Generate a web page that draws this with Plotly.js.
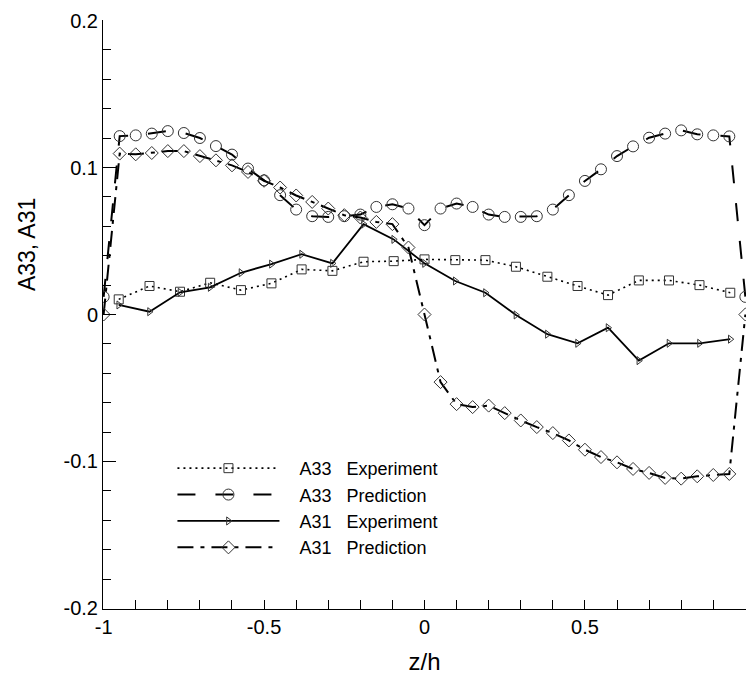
<!DOCTYPE html>
<html>
<head>
<meta charset="utf-8">
<script src="https://cdn.plot.ly/plotly-3.0.1.min.js"></script>
<style>html,body{margin:0;padding:0;background:#fff;}#chart{width:750px;height:679px;}</style>
</head>
<body>
<div id="chart"></div>
<script>
// Experiment positions (z/h)
const expZ = [-0.953, -0.857, -0.762, -0.668, -0.572, -0.477, -0.383, -0.287, -0.190, -0.096, 0.0,
              0.096, 0.190, 0.285, 0.383, 0.477, 0.572, 0.668, 0.762, 0.857, 0.953];
const a33Exp = [0.0103, 0.0194, 0.0155, 0.0216, 0.0166, 0.0212, 0.0307, 0.0297, 0.0359, 0.0363, 0.0375,
                0.0370, 0.0370, 0.0325, 0.0257, 0.0194, 0.0132, 0.0232, 0.0232, 0.0200, 0.0148];
const a31Exp = [0.0065, 0.0019, 0.0151, 0.0185, 0.0284, 0.0343, 0.0410, 0.0348, 0.0615, 0.0511, 0.0348,
                0.0228, 0.0148, -0.0003, -0.0134, -0.0196, -0.0090, -0.0314, -0.0196, -0.0196, -0.0168];
// Prediction positions (z/h)
const predZ = [-1.0, -0.95, -0.90, -0.85, -0.80, -0.75, -0.70, -0.65, -0.60, -0.55, -0.50,
               -0.45, -0.40, -0.35, -0.30, -0.25, -0.20, -0.15, -0.10, -0.05, 0.0,
               0.05, 0.10, 0.15, 0.20, 0.25, 0.30, 0.35, 0.40, 0.45, 0.50,
               0.55, 0.60, 0.65, 0.70, 0.75, 0.80, 0.85, 0.90, 0.95, 1.0];
const a33Pred = [0.012, 0.1214, 0.1219, 0.1231, 0.1248, 0.1235, 0.1201, 0.1146, 0.1088, 0.0993, 0.0913,
                 0.0812, 0.0714, 0.0669, 0.0664, 0.0669, 0.0680, 0.0732, 0.0750, 0.0721, 0.0608,
                 0.0721, 0.0755, 0.0732, 0.0680, 0.0664, 0.0664, 0.0669, 0.0714, 0.0812, 0.0909,
                 0.0988, 0.1078, 0.1144, 0.1203, 0.1231, 0.1253, 0.1226, 0.1219, 0.1212, 0.012];
const a31Pred = [0.0, 0.1095, 0.1090, 0.1099, 0.1112, 0.1112, 0.1078, 0.1049, 0.1015, 0.0970, 0.0910,
                 0.0864, 0.0810, 0.0766, 0.0721, 0.0676, 0.0660, 0.0630, 0.0615, 0.0456, 0.0,
                 -0.0460, -0.0610, -0.0630, -0.0620, -0.0671, -0.0721, -0.0766, -0.0807, -0.0857, -0.0920,
                 -0.0970, -0.1006, -0.1051, -0.1078, -0.1112, -0.1117, -0.1101, -0.1092, -0.1085, 0.0];
const NB = '\u00A0';
const seriesNames = [NB+NB+NB+'A33'+NB.repeat(3)+'Experiment', NB+NB+NB+'A33'+NB.repeat(3)+'Prediction',
                     NB+NB+NB+'A31'+NB.repeat(3)+'Experiment', NB+NB+NB+'A31'+NB.repeat(3)+'Prediction'];
const xTickVals = [-1, -0.5, 0, 0.5, 1];
const xTickText = ['-1', '-0.5', '0', '0.5', '1'];
const xMinorVals = [-1, -0.9, -0.8, -0.7, -0.6, -0.5, -0.4, -0.3, -0.2, -0.1, 0,
                    0.1, 0.2, 0.3, 0.4, 0.5, 0.6, 0.7, 0.8, 0.9, 1];
const yTickVals = [-0.2, -0.1, 0, 0.1, 0.2];
const yTickText = ['-0.2', '-0.1', '0', '0.1', '0.2'];
const yMinorVals = [-0.2, -0.18, -0.16, -0.14, -0.12, -0.1, -0.08, -0.06, -0.04, -0.02, 0,
                    0.02, 0.04, 0.06, 0.08, 0.1, 0.12, 0.14, 0.16, 0.18, 0.2];

const FONT = 'Liberation Sans, Arial, sans-serif';
const mk = (sym, size) => ({symbol: sym, size: size, color: '#333', line: {color: '#333', width: 1}});

const traces = [
  {x: expZ, y: a33Exp, name: seriesNames[0], mode: 'lines+markers',
   line: {color: '#000', width: 1.6, dash: '2px,4px'}, marker: mk('square-open', 9)},
  {x: predZ, y: a33Pred, name: seriesNames[1], mode: 'lines+markers',
   line: {color: '#000', width: 2, dash: '18px,20px'}, marker: mk('circle-open', 11)},
  {x: expZ, y: a31Exp, name: seriesNames[2], mode: 'lines+markers',
   line: {color: '#000', width: 1.8}, marker: mk('triangle-right-open', 7)},
  {x: predZ, y: a31Pred, name: seriesNames[3], mode: 'lines+markers',
   line: {color: '#000', width: 2, dash: '16px,7px,4px,7px'}, marker: mk('diamond-open', 10)}
];

const layout = {
  width: 750, height: 679,
  margin: {l: 103, r: 4, t: 20, b: 70},
  font: {family: FONT, color: '#000', size: 20},
  showlegend: true,
  legend: {x: 0.108, y: 0.27, xanchor: 'left', yanchor: 'top', bgcolor: 'rgba(0,0,0,0)',
           font: {family: FONT, size: 18, color: '#000'}, itemwidth: 102, tracegroupgap: 0},
  xaxis: {range: [-1.002, 1.002], showline: true, linecolor: '#000', showgrid: false, zeroline: false,
          ticks: 'inside', ticklen: 9, tickwidth: 1, tickcolor: 'rgb(0,0,0)',
          tickmode: 'array', tickvals: xTickVals, ticktext: xTickText, tickfont: {size: 20},
          minor: {tickmode: 'array', tickvals: xMinorVals, ticks: 'inside', ticklen: 9, tickwidth: 1, tickcolor: 'rgb(0,0,0)'},
          title: {text: 'z/h', font: {size: 24}, standoff: 16}},
  yaxis: {range: [-0.2004, 0.2004], showline: true, linecolor: '#000', showgrid: false, zeroline: false,
          ticks: 'inside', ticklen: 13, tickwidth: 1, tickcolor: 'rgb(0,0,0)',
          tickmode: 'array', tickvals: yTickVals, ticktext: yTickText, tickfont: {size: 20},
          minor: {tickmode: 'array', tickvals: yMinorVals, ticks: 'inside', ticklen: 8, tickwidth: 1, tickcolor: 'rgb(0,0,0)'}},
  annotations: [{text: 'A33, A31', textangle: -90, xref: 'paper', yref: 'paper', xanchor: 'center', yanchor: 'middle',
                 x: -0.118, y: 0.618, showarrow: false, font: {size: 23, family: FONT}}]
};

Plotly.newPlot('chart', traces, layout, {displayModeBar: false, staticPlot: true});
</script>
</body>
</html>
